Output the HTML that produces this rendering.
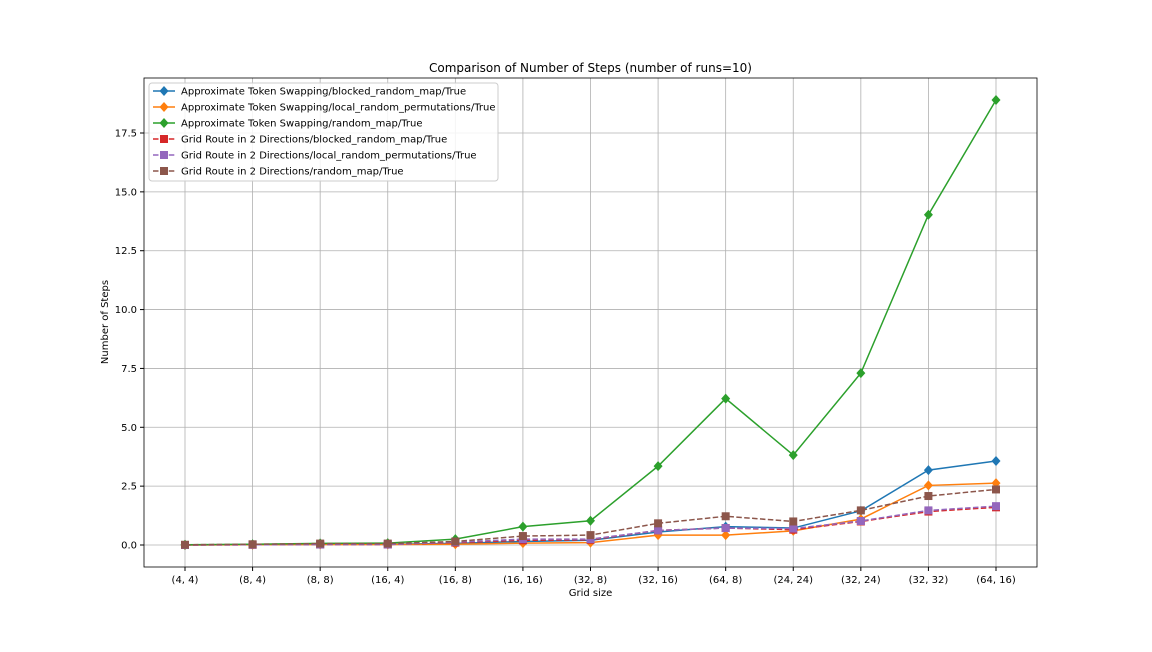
<!DOCTYPE html>
<html><head><meta charset="utf-8"><style>
body{margin:0;background:#fff;font-family:"DejaVu Sans",sans-serif}
svg text{font-family:"DejaVu Sans",sans-serif}
</style></head><body>
<svg id="chart" width="1152" height="648" xmlns="http://www.w3.org/2000/svg"></svg>
<script>
const categories=["(4, 4)","(8, 4)","(8, 8)","(16, 4)","(16, 8)","(16, 16)","(32, 8)","(32, 16)","(64, 8)","(24, 24)","(32, 24)","(32, 32)","(64, 16)"];
const yTicks=[0,2.5,5,7.5,10,12.5,15,17.5];
const seriesNames=["Approximate Token Swapping/blocked_random_map/True","Approximate Token Swapping/local_random_permutations/True","Approximate Token Swapping/random_map/True","Grid Route in 2 Directions/blocked_random_map/True","Grid Route in 2 Directions/local_random_permutations/True","Grid Route in 2 Directions/random_map/True"];
const atsBlocked=[0,0.02,0.03,0.03,0.07,0.15,0.2,0.55,0.78,0.72,1.45,3.18,3.57];
const atsLocal=[0,0.01,0.02,0.02,0.03,0.08,0.1,0.42,0.42,0.6,1.1,2.53,2.63];
const atsRandom=[0.01,0.03,0.07,0.08,0.25,0.78,1.03,3.35,6.22,3.82,7.3,14.03,18.9];
const grBlocked=[0,0.01,0.02,0.02,0.1,0.2,0.22,0.62,0.72,0.65,1.0,1.42,1.6];
const grLocal=[0,0.01,0.02,0.02,0.12,0.25,0.25,0.62,0.72,0.7,1.02,1.47,1.65];
const grRandom=[0.01,0.03,0.06,0.06,0.15,0.38,0.42,0.92,1.22,1.0,1.47,2.08,2.36];
const seriesData=[atsBlocked,atsLocal,atsRandom,grBlocked,grLocal,grRandom];
const colors=["#1f77b4","#ff7f0e","#2ca02c","#d62728","#9467bd","#8c564b"];
const L=144,R=1037,T=78,B=567;
const x=i=>185+i*(996-185)/(categories.length-1);
const y=v=>545-v*(545-133)/17.5;
const S=document.getElementById('chart');const NS="http://www.w3.org/2000/svg";
function mk(t,a,p){const e=document.createElementNS(NS,t);for(const k in a)e.setAttribute(k,a[k]);(p||S).appendChild(e);return e;}
const grid=mk('g',{});
categories.forEach((c,i)=>{mk('line',{x1:x(i),x2:x(i),y1:T,y2:B,stroke:'#b0b0b0','stroke-width':0.8},grid);
mk('line',{x1:x(i),x2:x(i),y1:B,y2:B+4,stroke:'#000'},grid);
const t=mk('text',{x:x(i),y:B+16,'text-anchor':'middle','font-size':10});t.textContent=c;
});
yTicks.forEach(v=>{mk('line',{x1:L,x2:R,y1:y(v),y2:y(v),stroke:'#b0b0b0','stroke-width':0.8},grid);
mk('line',{x1:L-4,x2:L,y1:y(v),y2:y(v),stroke:'#000'},grid);
const t=mk('text',{x:L-7,y:y(v)+3.5,'text-anchor':'end','font-size':10});t.textContent=v.toFixed(1);
});
function marker(g,cx,cy,i){if(i<3)mk('path',{d:`M${cx} ${cy-5}L${cx+4.5} ${cy}L${cx} ${cy+5}L${cx-4.5} ${cy}Z`,fill:colors[i]},g);
else mk('rect',{x:cx-4,y:cy-4,width:8,height:8,fill:colors[i]},g);}
seriesData.forEach((d,i)=>{const g=mk('g',{});
mk('polyline',{points:d.map((v,j)=>x(j)+','+y(v)).join(' '),fill:'none',stroke:colors[i],'stroke-width':1.5,'stroke-dasharray':i<3?'':'5.5,2.4'},g);
d.forEach((v,j)=>marker(g,x(j),y(v),i));});
mk('rect',{x:L,y:T,width:R-L,height:B-T,fill:'none',stroke:'#000','stroke-width':0.8});
let t=mk('text',{x:590.5,y:72,'text-anchor':'middle','font-size':12});t.textContent="Comparison of Number of Steps (number of runs=10)";
t=mk('text',{x:590.5,y:596,'text-anchor':'middle','font-size':10});t.textContent="Grid size";
t=mk('text',{x:108,y:322,'text-anchor':'middle','font-size':10,transform:'rotate(-90 108 322)'});t.textContent="Number of Steps";
const lg=mk('g',{});
mk('rect',{x:149,y:83,width:349,height:98,rx:3,fill:'#fff','fill-opacity':0.85,stroke:'#ccc'},lg);
seriesNames.forEach((n,i)=>{const yy=91+i*16;const e=mk('g',{},lg);
mk('line',{x1:153,x2:175,y1:yy,y2:yy,stroke:colors[i],'stroke-width':1.5,'stroke-dasharray':i<3?'':'5.5,2.4'},e);
marker(e,164,yy,i);const tt=mk('text',{x:181,y:yy+3.5,'font-size':10},e);tt.textContent=n;});
</script></body></html>
